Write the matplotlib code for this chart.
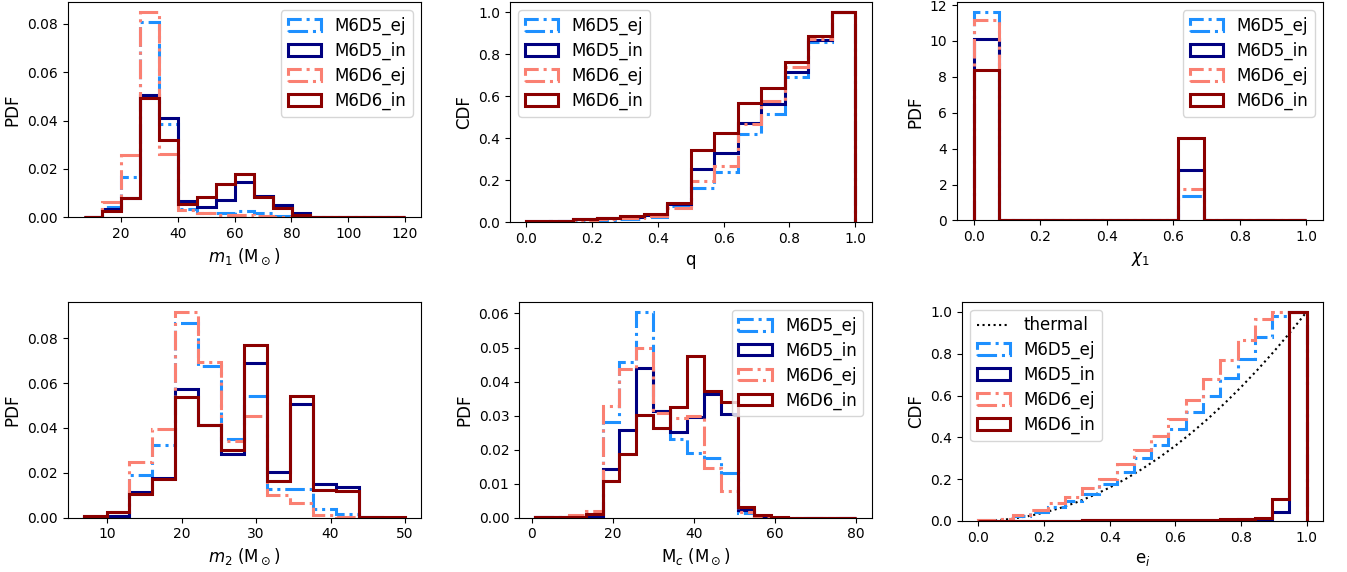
"""
Binary BH properties: ejected vs in-cluster, M6D5 / M6D6 models
"""

import numpy as np
import matplotlib
matplotlib.use('Agg')
import matplotlib.pyplot as plt

# ── Data (bin heights) ─────────────────────────────────

models = ['M6D5_ej', 'M6D5_in', 'M6D6_ej', 'M6D6_in']

# primary mass m1, PDF
m1_edges = np.linspace(6.8, 120, 18)
m1_M6D5_ej = [0.0003, 0.0041, 0.0168, 0.0807, 0.0385, 0.0033, 0.0016, 0.0016, 0.0027,
              0.0016, 0.0005, 0.0002, 0.0001, 0.0, 0.0, 0.0, 0.0]
m1_M6D5_in = [0.0003, 0.0033, 0.0078, 0.0507, 0.0412, 0.0067, 0.0044, 0.0071, 0.0147,
              0.0088, 0.0051, 0.0016, 0.0003, 0.0002, 0.0001, 0.0001, 0.0001]
m1_M6D6_ej = [0.0003, 0.0065, 0.0257, 0.0848, 0.0261, 0.0030, 0.0019, 0.0010, 0.0010,
              0.0005, 0.0002, 0.0001, 0.0, 0.0, 0.0, 0.0, 0.0]
m1_M6D6_in = [0.0003, 0.0027, 0.0078, 0.0495, 0.0319, 0.0055, 0.0082, 0.0137, 0.0179,
              0.0085, 0.0037, 0.0010, 0.0003, 0.0002, 0.0001, 0.0001, 0.0001]

# mass ratio q, CDF
q_edges = np.linspace(0, 1, 15)
q_M6D5_ej = [0.002, 0.003, 0.007, 0.010, 0.015, 0.025, 0.075, 0.163, 0.238, 0.421,
             0.516, 0.694, 0.857, 1.0]
q_M6D5_in = [0.003, 0.005, 0.015, 0.020, 0.025, 0.035, 0.087, 0.252, 0.327, 0.473,
             0.563, 0.714, 0.868, 1.0]
q_M6D6_ej = [0.002, 0.004, 0.008, 0.012, 0.018, 0.030, 0.068, 0.194, 0.267, 0.468,
             0.579, 0.738, 0.873, 1.0]
q_M6D6_in = [0.003, 0.005, 0.012, 0.018, 0.027, 0.040, 0.090, 0.344, 0.425, 0.568,
             0.640, 0.765, 0.889, 1.0]

# spin chi1, PDF
chi_edges = np.linspace(0, 1, 14)
chi_M6D5_ej = [11.59, 0, 0, 0, 0, 0, 0, 0, 1.35, 0, 0, 0, 0]
chi_M6D5_in = [10.09, 0, 0, 0, 0, 0, 0, 0, 2.84, 0.02, 0, 0, 0]
chi_M6D6_ej = [11.16, 0, 0, 0, 0, 0, 0, 0, 1.78, 0, 0, 0, 0]
chi_M6D6_in = [8.36, 0, 0, 0, 0, 0, 0, 0, 4.58, 0.05, 0.05, 0, 0]

# secondary mass m2, PDF
m2_edges = np.linspace(6.8, 50, 15)
m2_M6D5_ej = [0.0004, 0.0008, 0.0192, 0.0322, 0.0869, 0.0677, 0.0349, 0.0541, 0.0127,
              0.0130, 0.0037, 0.0016, 0.0, 0.0]
m2_M6D5_in = [0.0004, 0.0007, 0.0115, 0.0179, 0.0572, 0.0414, 0.0285, 0.0689, 0.0202,
              0.0507, 0.0152, 0.0137, 0.0001, 0.0]
m2_M6D6_ej = [0.0006, 0.0025, 0.0248, 0.0396, 0.0918, 0.0692, 0.0341, 0.0455, 0.0103,
              0.0064, 0.0012, 0.0004, 0.0, 0.0]
m2_M6D6_in = [0.0007, 0.0027, 0.0105, 0.0171, 0.0540, 0.0414, 0.0300, 0.0770, 0.0164,
              0.0544, 0.0123, 0.0120, 0.0003, 0.0003]

# chirp mass Mc, PDF
mc_edges = np.linspace(0.8, 80, 20)
mc_M6D5_ej = [0.0001, 0.0001, 0.0001, 0.0008, 0.0282, 0.0458, 0.0605, 0.0313, 0.0230,
              0.0190, 0.0176, 0.0130, 0.0013, 0.0001, 0.0, 0.0, 0.0, 0.0, 0.0]
mc_M6D5_in = [0.0001, 0.0001, 0.0001, 0.0006, 0.0144, 0.0258, 0.0441, 0.0313, 0.0253,
              0.0297, 0.0363, 0.0305, 0.0022, 0.0003, 0.0, 0.0, 0.0, 0.0, 0.0]
mc_M6D6_ej = [0.0002, 0.0002, 0.0007, 0.0020, 0.0329, 0.0436, 0.0498, 0.0307, 0.0293,
              0.0300, 0.0146, 0.0079, 0.0018, 0.0002, 0.0, 0.0, 0.0, 0.0, 0.0]
mc_M6D6_in = [0.0001, 0.0001, 0.0003, 0.0010, 0.0108, 0.0188, 0.0302, 0.0263, 0.0324,
              0.0475, 0.0373, 0.0339, 0.0032, 0.0007, 0.0001, 0.0, 0.0, 0.0, 0.0]

# eccentricity e_i, CDF
e_edges = np.linspace(0, 1, 20)
e_M6D5_ej = [0.003, 0.008, 0.022, 0.042, 0.068, 0.094, 0.130, 0.175, 0.236, 0.300,
             0.363, 0.438, 0.522, 0.597, 0.686, 0.777, 0.881, 0.980, 1.0]
e_M6D5_in = [0.001, 0.001, 0.001, 0.002, 0.002, 0.002, 0.003, 0.003, 0.003, 0.004,
             0.004, 0.005, 0.005, 0.006, 0.007, 0.008, 0.010, 0.045, 1.0]
e_M6D6_ej = [0.005, 0.011, 0.029, 0.053, 0.084, 0.116, 0.156, 0.199, 0.272, 0.342,
             0.406, 0.490, 0.581, 0.677, 0.769, 0.868, 0.968, 1.0, 1.0]
e_M6D6_in = [0.001, 0.001, 0.001, 0.002, 0.002, 0.002, 0.003, 0.003, 0.003, 0.004,
             0.004, 0.005, 0.006, 0.007, 0.008, 0.010, 0.014, 0.104, 1.0]

# thermal reference CDF
thermal_e = [0.0, 0.05, 0.1, 0.15, 0.2, 0.25, 0.3, 0.35, 0.4, 0.45, 0.5,
             0.55, 0.6, 0.65, 0.7, 0.75, 0.8, 0.85, 0.9, 0.95, 1.0]
thermal_cdf = [0.0, 0.0025, 0.01, 0.0225, 0.04, 0.0625, 0.09, 0.1225, 0.16, 0.2025, 0.25,
               0.3025, 0.36, 0.4225, 0.49, 0.5625, 0.64, 0.7225, 0.81, 0.9025, 1.0]

# ── Style ───────────────────────────────────────────────

colors = ['dodgerblue', 'navy', 'salmon', 'darkred']
styles = ['-.', '-', '-.', '-']

plt.rcParams['xtick.labelsize'] = 10
plt.rcParams['ytick.labelsize'] = 10
plt.rcParams['axes.labelsize'] = 12
plt.rcParams['legend.fontsize'] = 12
plt.rcParams['legend.labelspacing'] = 0.4

W, H = 1347, 572
fig = plt.figure(figsize=(W / 100, H / 100), dpi=100)

# axes boxes in pixels: left, top, right, bottom
boxes = [(67.5, 2, 421, 217.3), (510, 2, 871.7, 222), (957, 2, 1323, 220.5),
         (67.5, 301.5, 421, 517.7), (519, 301.5, 871.7, 517.7), (962, 301.5, 1323, 521)]
axes = [fig.add_axes([l / W, 1 - b / H, (r - l) / W, (b - t) / H]) for l, t, r, b in boxes]


def draw(ax, edges, series):
    for name, vals, c, ls in zip(models, series, colors, styles):
        ax.hist(edges[:-1], bins=edges, weights=vals, histtype='step',
                color=c, linestyle=ls, linewidth=2.2, label=name)


# ── Panels ──────────────────────────────────────────────

ax = axes[0]
draw(ax, m1_edges, [m1_M6D5_ej, m1_M6D5_in, m1_M6D6_ej, m1_M6D6_in])
ax.set_xlabel(r'$m_1$ (M$_\odot$)')
ax.set_ylabel('PDF')
ax.legend(loc='upper right')

ax = axes[1]
draw(ax, q_edges, [q_M6D5_ej, q_M6D5_in, q_M6D6_ej, q_M6D6_in])
ax.set_xlabel('q')
ax.set_ylabel('CDF')
ax.legend(loc='upper left')

ax = axes[2]
draw(ax, chi_edges, [chi_M6D5_ej, chi_M6D5_in, chi_M6D6_ej, chi_M6D6_in])
ax.set_xlabel(r'$\chi_1$')
ax.set_ylabel('PDF')
ax.legend(loc='upper right')

ax = axes[3]
draw(ax, m2_edges, [m2_M6D5_ej, m2_M6D5_in, m2_M6D6_ej, m2_M6D6_in])
ax.set_xlabel(r'$m_2$ (M$_\odot$)')
ax.set_ylabel('PDF')

ax = axes[4]
draw(ax, mc_edges, [mc_M6D5_ej, mc_M6D5_in, mc_M6D6_ej, mc_M6D6_in])
ax.set_xlabel(r'M$_c$ (M$_\odot$)')
ax.set_ylabel('PDF')
ax.legend(loc='upper right')

ax = axes[5]
ax.plot(thermal_e, thermal_cdf, color='k', linestyle=':', linewidth=1.5, label='thermal')
draw(ax, e_edges, [e_M6D5_ej, e_M6D5_in, e_M6D6_ej, e_M6D6_in])
ax.set_xlabel(r'e$_i$')
ax.set_ylabel('CDF')
ax.legend(loc='upper left')

plt.savefig('out.png', dpi=100)
plt.close()
